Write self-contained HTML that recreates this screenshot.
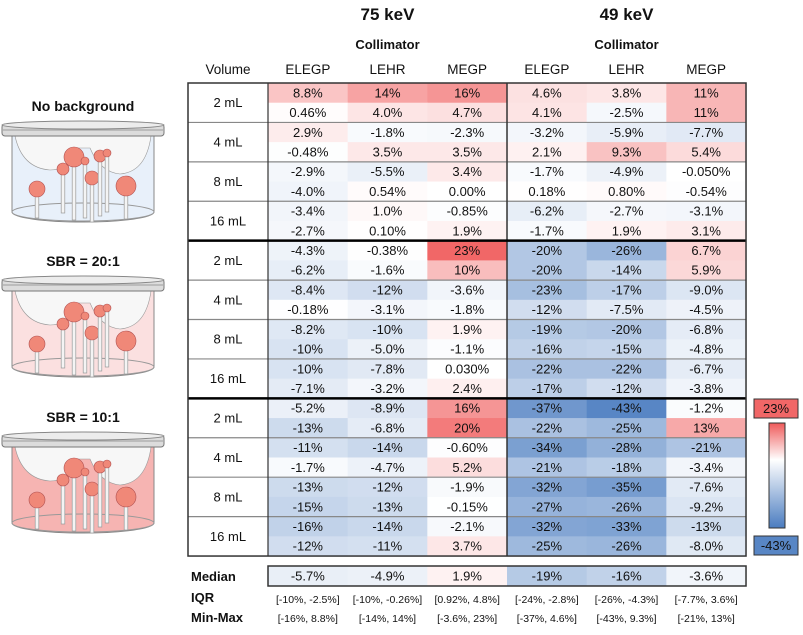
<!DOCTYPE html>
<html><head><meta charset="utf-8"><style>
body{margin:0;background:#fff;}
svg{display:block;font-family:"Liberation Sans",Arial,sans-serif;}
</style></head><body>
<svg id="chart" width="803" height="635" viewBox="0 0 803 635">
<defs>
<linearGradient id="cbar" x1="0" y1="0" x2="0" y2="1">
<stop offset="0" stop-color="#ef5a5a"/><stop offset="0.35" stop-color="#ffffff"/><stop offset="1" stop-color="#4a7cc0"/>
</linearGradient>
</defs>
<g id="phantoms"></g>
<g id="table"></g>
</svg>
<script>
const energies = ["75 keV", "49 keV"];
const collimators = ["ELEGP", "LEHR", "MEGP", "ELEGP", "LEHR", "MEGP"];
const volumes = ["2 mL", "4 mL", "8 mL", "16 mL"];
const blockTitles = ["No background", "SBR = 20:1", "SBR = 10:1"];
const block1Values = [
 ["8.8","14","16","4.6","3.8","11"],["0.46","4.0","4.7","4.1","-2.5","11"],
 ["2.9","-1.8","-2.3","-3.2","-5.9","-7.7"],["-0.48","3.5","3.5","2.1","9.3","5.4"],
 ["-2.9","-5.5","3.4","-1.7","-4.9","-0.050"],["-4.0","0.54","0.00","0.18","0.80","-0.54"],
 ["-3.4","1.0","-0.85","-6.2","-2.7","-3.1"],["-2.7","0.10","1.9","-1.7","1.9","3.1"]];
const block2Values = [
 ["-4.3","-0.38","23","-20","-26","6.7"],["-6.2","-1.6","10","-20","-14","5.9"],
 ["-8.4","-12","-3.6","-23","-17","-9.0"],["-0.18","-3.1","-1.8","-12","-7.5","-4.5"],
 ["-8.2","-10","1.9","-19","-20","-6.8"],["-10","-5.0","-1.1","-16","-15","-4.8"],
 ["-10","-7.8","0.030","-22","-22","-6.7"],["-7.1","-3.2","2.4","-17","-12","-3.8"]];
const block3Values = [
 ["-5.2","-8.9","16","-37","-43","-1.2"],["-13","-6.8","20","-22","-25","13"],
 ["-11","-14","-0.60","-34","-28","-21"],["-1.7","-4.7","5.2","-21","-18","-3.4"],
 ["-13","-12","-1.9","-32","-35","-7.6"],["-15","-13","-0.15","-27","-26","-9.2"],
 ["-16","-14","-2.1","-32","-33","-13"],["-12","-11","3.7","-25","-26","-8.0"]];
const medians = ["-5.7","-4.9","1.9","-19","-16","-3.6"];
const iqrs = ["[-10%, -2.5%]","[-10%, -0.26%]","[0.92%, 4.8%]","[-24%, -2.8%]","[-26%, -4.3%]","[-7.7%, 3.6%]"];
const minmaxes = ["[-16%, 8.8%]","[-14%, 14%]","[-3.6%, 23%]","[-37%, 4.6%]","[-43%, 9.3%]","[-21%, 13%]"];
const scaleMax = 23, scaleMin = -43;

const NS = "http://www.w3.org/2000/svg";
function mk(tag, attrs, parent, text){
  const e = document.createElementNS(NS, tag);
  for (const k in attrs) e.setAttribute(k, attrs[k]);
  if (text !== undefined) e.textContent = text;
  parent.appendChild(e); return e;
}
const X0 = 268, CW = 79.67, Y0 = 83, RH = 19.71;
const xCol = i => X0 + i * CW;
const yRow = r => Y0 + r * RH;
function color(v){
  const mix = (a,b,t)=>Math.round(a+(b-a)*t);
  if (v >= 0){ const t=Math.min(v/scaleMax,1)*0.92; return `rgb(${mix(255,240,t)},${mix(255,90,t)},${mix(255,90,t)})`; }
  const t=Math.min(v/scaleMin,1)*0.92; return `rgb(${mix(255,74,t)},${mix(255,124,t)},${mix(255,192,t)})`;
}
const tbl = document.getElementById("table");

energies.forEach((e,i)=>{
  const cx = xCol(i*3+1.5);
  const t = mk("text",{x:cx,y:20,"text-anchor":"middle","font-size":17,"font-weight":"bold",fill:"#111"},tbl,e);
  
  
  const c = mk("text",{x:cx,y:49,"text-anchor":"middle","font-size":13,"font-weight":"bold",fill:"#111"},tbl,"Collimator");
  
  
});
const vh = mk("text",{x:228,y:74,"text-anchor":"middle","font-size":13.5,fill:"#111"},tbl,"Volume");


collimators.forEach((c,i)=>{
  const t = mk("text",{x:xCol(i+0.5),y:74,"text-anchor":"middle","font-size":13.5,fill:"#111"},tbl,c);
  
  
});

const blocks = [block1Values, block2Values, block3Values];
blocks.forEach((blk,b)=>{
  blk.forEach((row,r)=>{
    const ri = b*8 + r;
    row.forEach((s,c)=>{
      const v = parseFloat(s);
      const rc = mk("rect",{x:xCol(c),y:yRow(ri),width:CW+0.5,height:RH+0.5,fill:color(v)},tbl);
      
      
      const t = mk("text",{x:xCol(c+0.5),y:yRow(ri)+RH/2+4.5,"text-anchor":"middle","font-size":13,fill:"#111"},tbl,s+"%");
      
      
    });
  });
  volumes.forEach((vl,g)=>{
    const t = mk("text",{x:228,y:yRow(b*8+g*2+1)+4.5,"text-anchor":"middle","font-size":13,fill:"#111"},tbl,vl);
    
    
  });
});
for (let g=1; g<12; g++){
  if (g%4===0) continue;
  mk("line",{x1:188,x2:xCol(6),y1:yRow(g*2),y2:yRow(g*2),stroke:"#888","stroke-width":1.2},tbl);
}
mk("line",{x1:X0,x2:X0,y1:Y0,y2:yRow(24),stroke:"#333","stroke-width":1.2},tbl);
mk("line",{x1:xCol(3),x2:xCol(3),y1:Y0,y2:yRow(24),stroke:"#333","stroke-width":1.5},tbl);
[8,16].forEach(r=>mk("line",{x1:188,x2:xCol(6),y1:yRow(r),y2:yRow(r),stroke:"#000","stroke-width":2.5},tbl));
const ob = mk("rect",{x:188,y:Y0,width:xCol(6)-188,height:RH*24,fill:"none",stroke:"#333","stroke-width":1.5},tbl);



const MY = 566, MH = 20;
medians.forEach((s,c)=>{
  const rc = mk("rect",{x:xCol(c),y:MY,width:CW+0.5,height:MH,fill:color(parseFloat(s))},tbl);
  
  
  const t = mk("text",{x:xCol(c+0.5),y:MY+14.5,"text-anchor":"middle","font-size":13,fill:"#111"},tbl,s+"%");
  
  
  const q = mk("text",{x:xCol(c+0.5),y:603,"text-anchor":"middle","font-size":10.5,fill:"#111"},tbl,iqrs[c]);
  
  
  const m = mk("text",{x:xCol(c+0.5),y:622,"text-anchor":"middle","font-size":10.5,fill:"#111"},tbl,minmaxes[c]);
  
  
});
mk("rect",{x:X0,y:MY,width:xCol(6)-X0,height:MH,fill:"none",stroke:"#333","stroke-width":1.5},tbl);
[["Median",581],["IQR",602],["Min-Max",622]].forEach(([l,y])=>{
  const t = mk("text",{x:191,y:y,"font-size":13,"font-weight":"bold",fill:"#111"},tbl,l);
  
  
});

const cb1 = mk("rect",{x:754,y:399,width:44,height:19,fill:color(scaleMax),stroke:"#333"},tbl);


mk("text",{x:776,y:413,"text-anchor":"middle","font-size":13,fill:"#111"},tbl,scaleMax+"%");
const cb = mk("rect",{x:769,y:423,width:16,height:105,fill:"url(#cbar)",stroke:"#333"},tbl);


const cb2 = mk("rect",{x:754,y:536,width:44,height:19,fill:color(scaleMin),stroke:"#333"},tbl);


mk("text",{x:776,y:550,"text-anchor":"middle","font-size":13,fill:"#111"},tbl,scaleMin+"%");

const ph = document.getElementById("phantoms");
const fills = ["#e8f0fa","#fbe0e0","#f6b4b2"];
const offs = [0,155,311];
const spheres = [[37,189,7,218],[63,169,5,213],[74,157,9,220],[85,161,3,218],[92,178,6,222],[100,156,5,216],[107,153,3,212],[126,186,9,219]];
blockTitles.forEach((tt,i)=>{
  const g = mk("g",{transform:`translate(0,${offs[i]})`},ph);
  
  
  const t = mk("text",{x:83,y:111,"text-anchor":"middle","font-size":14,"font-weight":"bold",fill:"#111"},g,tt);
  
  
  mk("path",{d:"M12 135 L12 212 A71 10 0 0 0 154 212 L154 135 Z",fill:fills[i],stroke:"#888"},g);
  mk("path",{d:"M15 136 Q22 168 50 170 Q70 170 78 148 L90 148 Q100 172 120 174 Q146 172 151 136 Z",fill:"#f7f7f7",stroke:"#999","stroke-width":0.6},g);
  mk("ellipse",{cx:83,cy:212,rx:71,ry:9,fill:"none",stroke:"#999"},g);
  spheres.forEach(([x,y,r,b])=>{
    mk("rect",{x:x-1.8,y:y,width:3.6,height:b-y,fill:"#f4f4f4",stroke:"#999","stroke-width":0.7},g);
    mk("circle",{cx:x,cy:y,r:r+1,fill:"#f08878",stroke:"#b05050","stroke-width":0.6},g);
  });
  mk("rect",{x:2,y:124,width:162,height:12,rx:3,fill:"#dcdcdc",stroke:"#777"},g);
  mk("ellipse",{cx:83,cy:125,rx:81,ry:4,fill:"#ececec",stroke:"#888"},g);
  mk("line",{x1:3,x2:163,y1:130,y2:130,stroke:"#888","stroke-width":0.8},g);
});
</script>
</body></html>
